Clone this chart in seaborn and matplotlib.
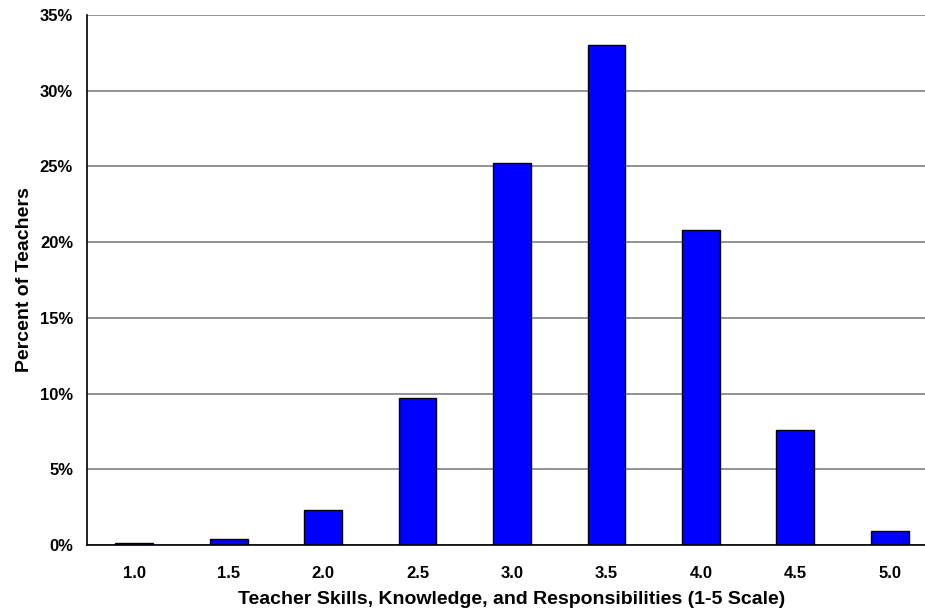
import matplotlib
matplotlib.use("Agg")
import matplotlib.pyplot as plt
import seaborn as sns
import pandas as pd
from matplotlib.ticker import FixedLocator, FuncFormatter

# datos
puntajes = ["1.0", "1.5", "2.0", "2.5", "3.0", "3.5", "4.0", "4.5", "5.0"]
porcentajes = [0.1, 0.4, 2.3, 9.7, 25.2, 33.0, 20.8, 7.6, 0.9]

df = pd.DataFrame({"puntaje": puntajes, "porcentaje": porcentajes})

sns.set_style("white")
plt.rcParams["font.family"] = ["Liberation Sans", "DejaVu Sans"]
plt.rcParams["font.weight"] = "bold"
plt.rcParams["text.color"] = "black"
plt.rcParams["axes.labelcolor"] = "black"
plt.rcParams["xtick.color"] = "black"
plt.rcParams["ytick.color"] = "black"

fig = plt.figure(figsize=(9.25, 6.12), dpi=100)
ax = fig.add_axes([87 / 925, 67 / 612, (937 - 87) / 925, (545 - 15) / 612])

sns.barplot(data=df, x="puntaje", y="porcentaje", color="#0000FF",
            saturation=1, edgecolor="black", linewidth=1.0, width=0.4, ax=ax)

ax.set_xlim(-0.5, 8.5)
ax.set_ylim(0, 35)
ax.set_yticks(range(0, 36, 5))
ax.yaxis.set_major_formatter(FuncFormatter(lambda v, p: f"{int(v)}%"))
ax.grid(axis="y", color="#808080", linewidth=1.2)
ax.set_axisbelow(True)

# marcas del eje x entre categorias
ax.xaxis.set_minor_locator(FixedLocator([i - 0.5 for i in range(10)]))
ax.tick_params(axis="x", which="major", length=0, pad=15, labelsize=12)
ax.tick_params(axis="x", which="minor", length=5, width=1, color="black", direction="out")
ax.tick_params(axis="y", which="major", length=5, width=1, color="black",
               direction="out", labelsize=12, pad=5)

for lado in ["top", "right"]:
    ax.spines[lado].set_visible(False)
for lado in ["left", "bottom"]:
    ax.spines[lado].set_color("black")
    ax.spines[lado].set_linewidth(1.2)

ax.set_xlabel("Teacher Skills, Knowledge, and Responsibilities (1-5 Scale)",
              fontsize=14, fontweight="bold", labelpad=7)
ax.set_ylabel("Percent of Teachers", fontsize=14, fontweight="bold", labelpad=5)

fig.savefig("out.png", dpi=100)
